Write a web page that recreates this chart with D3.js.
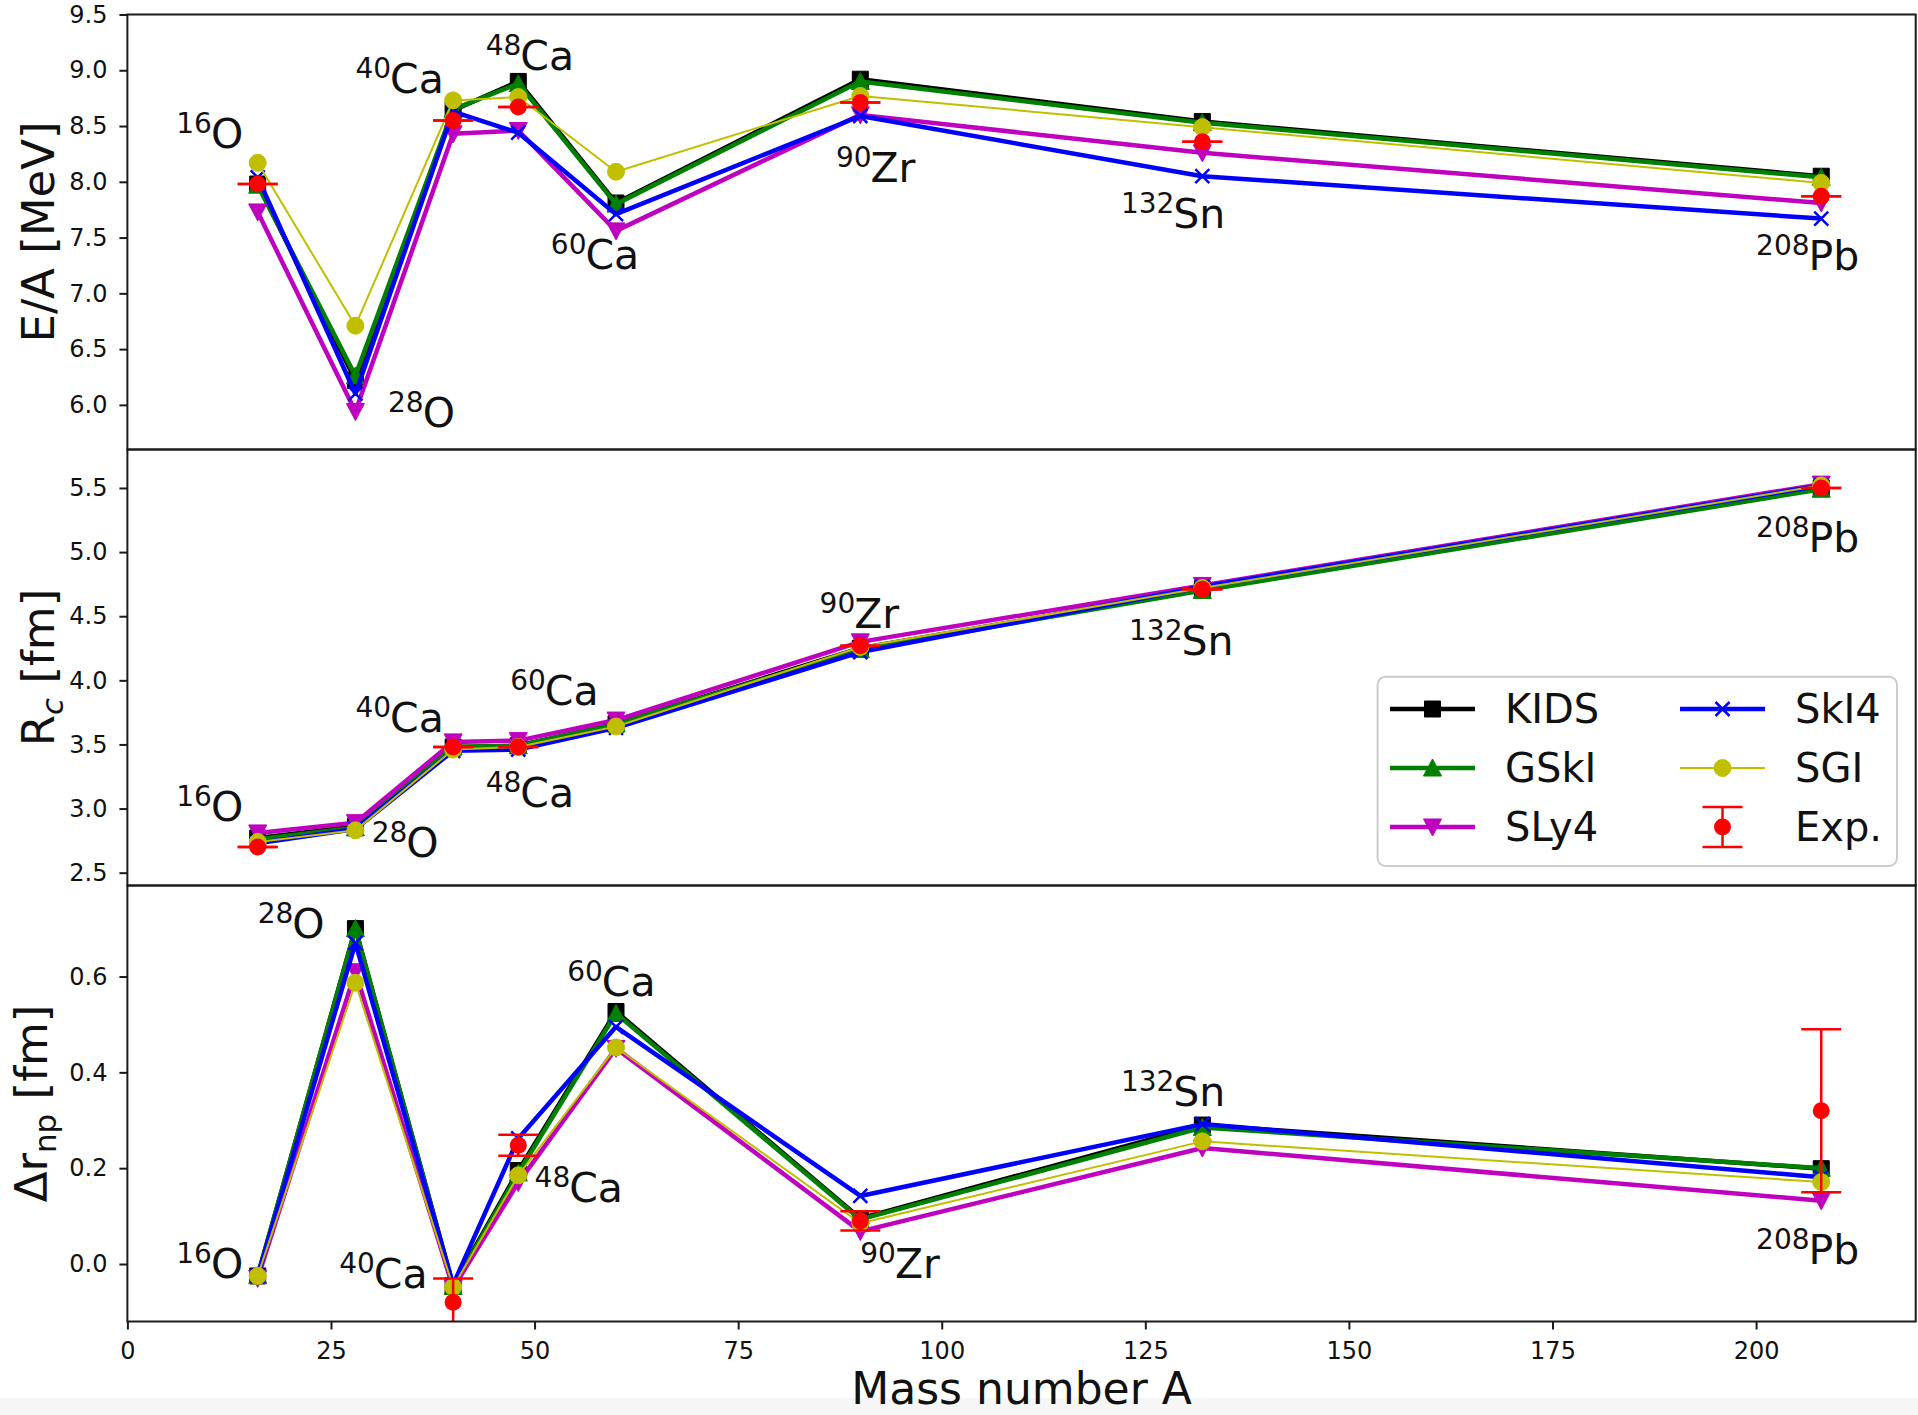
<!DOCTYPE html>
<html>
<head>
<meta charset="utf-8">
<script src="https://cdn.jsdelivr.net/npm/d3@7"></script>
<style>
  body { margin: 0; background: #fff; }
  text { font-family: "DejaVu Sans", sans-serif; fill: #111; }
</style>
</head>
<body>
<svg id="chart"></svg>
<script>
// ---- data ---------------------------------------------------------------
const massNumbers = [16, 28, 40, 48, 60, 90, 132, 208];
const modelNames = ['KIDS', 'GSkI', 'SLy4', 'SkI4', 'SGI'];

// binding energy per nucleon E/A [MeV]
const energyKIDS = [7.98, 6.22, 8.64, 8.90, 7.81, 8.92, 8.54, 8.05];
const energyGSkI = [7.97, 6.26, 8.65, 8.88, 7.80, 8.90, 8.53, 8.04];
const energySLy4 = [7.73, 5.94, 8.43, 8.46, 7.56, 8.60, 8.26, 7.81];
const energySkI4 = [8.04, 6.10, 8.63, 8.44, 7.71, 8.59, 8.05, 7.67];
const energySGI  = [8.17, 6.71, 8.73, 8.76, 8.09, 8.77, 8.49, 7.99];
const energyExpA   = [16, 40, 48, 90, 132, 208];
const energyExp    = [7.98, 8.55, 8.67, 8.71, 8.36, 7.87];
const energyExpErr = [0, 0, 0, 0, 0, 0];

// charge radius Rc [fm]
const radiusKIDS = [2.77, 2.86, 3.48, 3.49, 3.66, 4.25, 4.71, 5.50];
const radiusGSkI = [2.76, 2.85, 3.48, 3.49, 3.66, 4.24, 4.70, 5.49];
const radiusSLy4 = [2.81, 2.89, 3.52, 3.53, 3.69, 4.30, 4.74, 5.53];
const radiusSkI4 = [2.73, 2.84, 3.45, 3.46, 3.63, 4.22, 4.73, 5.52];
const radiusSGI  = [2.74, 2.83, 3.46, 3.48, 3.64, 4.26, 4.72, 5.52];
const radiusExpA   = [16, 40, 48, 90, 132, 208];
const radiusExp    = [2.70, 3.48, 3.48, 4.27, 4.71, 5.50];
const radiusExpErr = [0, 0, 0, 0, 0, 0];

// neutron skin thickness Delta r_np [fm]
const skinKIDS = [-0.025, 0.700, -0.045, 0.195, 0.527, 0.095, 0.290, 0.199];
const skinGSkI = [-0.024, 0.700, -0.047, 0.190, 0.523, 0.093, 0.285, 0.200];
const skinSLy4 = [-0.030, 0.610, -0.050, 0.170, 0.450, 0.068, 0.242, 0.132];
const skinSkI4 = [-0.025, 0.670, -0.043, 0.262, 0.495, 0.142, 0.292, 0.181];
const skinSGI  = [-0.025, 0.587, -0.048, 0.185, 0.452, 0.085, 0.256, 0.171];
const skinExpA   = [40, 48, 90, 208];
const skinExp    = [-0.080, 0.248, 0.090, 0.320];
const skinExpErr = [0.050, 0.022, 0.020, 0.170];

// nuclide tags, anchored in data coordinates (like ax.text)
const tagMass = ['16', '28', '40', '48', '60', '90', '132', '208'];
const tagElem = ['O', 'O', 'Ca', 'Ca', 'Ca', 'Zr', 'Sn', 'Pb'];
const energyTagA = [6, 32, 28, 44, 52, 87, 122, 200];
const energyTagV = [8.30, 5.80, 8.80, 9.00, 7.22, 8.00, 7.59, 7.21];
const radiusTagA = [6, 30, 28, 44, 47, 85, 123, 200];
const radiusTagV = [2.90, 2.62, 3.60, 3.01, 3.81, 4.41, 4.20, 5.00];
const skinTagA = [6, 16, 26, 50, 54, 90, 122, 200];
const skinTagV = [-0.03, 0.68, -0.05, 0.13, 0.56, -0.03, 0.33, 0.00];

const xTicks = [0, 25, 50, 75, 100, 125, 150, 175, 200];
const energyTicks = [6.0, 6.5, 7.0, 7.5, 8.0, 8.5, 9.0, 9.5];
const radiusTicks = [2.5, 3.0, 3.5, 4.0, 4.5, 5.0, 5.5];
const skinTicks = [0.0, 0.2, 0.4, 0.6];

// ---- styles -------------------------------------------------------------
const modelStyle = {
  KIDS: {color: '#000000', width: 4.5, marker: 'square'},
  GSkI: {color: '#008000', width: 4.5, marker: 'up'},
  SLy4: {color: '#bf00bf', width: 4.5, marker: 'down'},
  SkI4: {color: '#0000ff', width: 4.5, marker: 'cross'},
  SGI:  {color: '#bfbf00', width: 2,   marker: 'circle'}
};
const expColor = '#ff0000';
const frameColor = '#1a1a1a';

const W = 1918, H = 1415;
const plotLeft = 127.4, plotRight = 1915.7;

const svg = d3.select('#chart').attr('width', W).attr('height', H);
svg.append('rect').attr('width', W).attr('height', H).attr('fill', '#fff');
svg.append('rect').attr('y', 1398).attr('width', W).attr('height', H - 1398).attr('fill', '#f6f6f6');

const x = d3.scaleLinear().domain([0, 219.6]).range([plotLeft, plotRight]);

const panels = [
  {top: 14.5, bottom: 449.5, domain: [5.6, 9.5], ticks: energyTicks,
   series: [energyKIDS, energyGSkI, energySLy4, energySkI4, energySGI],
   expA: energyExpA, exp: energyExp, expErr: energyExpErr,
   tagA: energyTagA, tagV: energyTagV, label: 'energy', labelX: 53.5},
  {top: 449.5, bottom: 885.5, domain: [2.4, 5.8], ticks: radiusTicks,
   series: [radiusKIDS, radiusGSkI, radiusSLy4, radiusSkI4, radiusSGI],
   expA: radiusExpA, exp: radiusExp, expErr: radiusExpErr,
   tagA: radiusTagA, tagV: radiusTagV, label: 'radius', labelX: 53.5},
  {top: 885.5, bottom: 1321.5, domain: [-0.12, 0.79], ticks: skinTicks,
   series: [skinKIDS, skinGSkI, skinSLy4, skinSkI4, skinSGI],
   expA: skinExpA, exp: skinExp, expErr: skinExpErr,
   tagA: skinTagA, tagV: skinTagV, label: 'skin', labelX: 47}
];

function markerPath(type) {
  switch (type) {
    case 'square': return 'M-8,-8H8V8H-8Z';
    case 'up': return 'M0,-9L9,8L-9,8Z';
    case 'down': return 'M0,9L9,-8L-9,-8Z';
    case 'cross': return 'M-7,-7L7,7M-7,7L7,-7';
    default: return d3.symbol(d3.symbolCircle, Math.PI * 8.5 * 8.5)();
  }
}

function drawMarker(sel, style) {
  sel.attr('d', markerPath(style.marker));
  if (style.marker === 'cross') {
    sel.attr('fill', 'none').attr('stroke', style.color).attr('stroke-width', 2.5);
  } else {
    sel.attr('fill', style.color).attr('stroke', style.color).attr('stroke-width', 1);
  }
}

const defs = svg.append('defs');

panels.forEach((p, i) => {
  const y = d3.scaleLinear().domain(p.domain).range([p.bottom, p.top]);
  const g = svg.append('g');

  defs.append('clipPath').attr('id', 'clip' + i)
    .append('rect').attr('x', plotLeft).attr('y', p.top)
    .attr('width', plotRight - plotLeft).attr('height', p.bottom - p.top);

  const plot = g.append('g').attr('clip-path', `url(#clip${i})`);
  const line = d3.line().x(d => x(d[0])).y(d => y(d[1]));

  // model curves, in plotting order
  modelNames.forEach((name, k) => {
    const st = modelStyle[name];
    const pts = massNumbers.map((a, j) => [a, p.series[k][j]]);
    plot.append('path').datum(pts)
      .attr('d', line)
      .attr('fill', 'none')
      .attr('stroke', st.color)
      .attr('stroke-width', st.width)
      .attr('stroke-linejoin', 'round');
    plot.selectAll(null).data(pts).join('path')
      .attr('transform', d => `translate(${x(d[0])},${y(d[1])})`)
      .call(drawMarker, st);
  });

  // experimental points with error bars
  const expPts = p.expA.map((a, j) => ({a: a, v: p.exp[j], e: p.expErr[j]}));
  const eg = plot.selectAll(null).data(expPts).join('g');
  eg.append('line')
    .attr('x1', d => x(d.a)).attr('x2', d => x(d.a))
    .attr('y1', d => y(d.v - d.e)).attr('y2', d => y(d.v + d.e))
    .attr('stroke', expColor).attr('stroke-width', 2.5);
  [-1, 1].forEach(s => {
    eg.append('line')
      .attr('x1', d => x(d.a) - 20).attr('x2', d => x(d.a) + 20)
      .attr('y1', d => y(d.v + s * d.e)).attr('y2', d => y(d.v + s * d.e))
      .attr('stroke', expColor).attr('stroke-width', 2.5);
  });
  eg.append('circle')
    .attr('cx', d => x(d.a)).attr('cy', d => y(d.v)).attr('r', 8.5)
    .attr('fill', expColor);

  // nuclide tags
  const tags = g.selectAll(null).data(tagMass).join('text')
    .attr('x', (d, j) => x(p.tagA[j]))
    .attr('y', (d, j) => y(p.tagV[j]));
  tags.append('tspan').attr('font-size', 28).attr('dy', -15).text(d => d);
  tags.append('tspan').attr('font-size', 41).attr('dy', 15).attr('dx', -1)
    .text((d, j) => tagElem[j]);

  // frame
  g.append('rect')
    .attr('x', plotLeft).attr('y', p.top)
    .attr('width', plotRight - plotLeft).attr('height', p.bottom - p.top)
    .attr('fill', 'none').attr('stroke', frameColor).attr('stroke-width', 2);

  // y axis
  const yAxis = d3.axisLeft(y).tickValues(p.ticks)
    .tickFormat(d3.format('.1f')).tickSize(8).tickPadding(12);
  g.append('g')
    .attr('transform', `translate(${plotLeft},0)`)
    .call(yAxis)
    .call(a => a.select('.domain').remove())
    .attr('font-size', 24).attr('font-family', '"DejaVu Sans", sans-serif')
    .call(a => a.selectAll('line').attr('stroke', frameColor).attr('stroke-width', 2))
    .call(a => a.selectAll('text').attr('fill', '#1a1a1a'));

  // y label
  const cy = (p.top + p.bottom) / 2;
  const lab = g.append('text')
    .attr('transform', `translate(${p.labelX},${cy}) rotate(-90)`)
    .attr('text-anchor', 'middle')
    .attr('font-size', 45);
  if (p.label === 'energy') {
    lab.text('E/A [MeV]');
  } else if (p.label === 'radius') {
    lab.append('tspan').text('R');
    lab.append('tspan').attr('font-size', 31).attr('font-style', 'italic').attr('dy', 9).text('c');
    lab.append('tspan').attr('dy', -9).text(' [fm]');
  } else {
    lab.append('tspan').text('\u0394r');
    lab.append('tspan').attr('font-size', 31).attr('dy', 9).text('np');
    lab.append('tspan').attr('dy', -9).text(' [fm]');
  }

  // x axis only on the bottom panel
  if (i === panels.length - 1) {
    const xAxis = d3.axisBottom(x).tickValues(xTicks)
      .tickFormat(d3.format('d')).tickSize(8).tickPadding(12);
    g.append('g')
      .attr('transform', `translate(0,${p.bottom})`)
      .call(xAxis)
      .call(a => a.select('.domain').remove())
      .attr('font-size', 24).attr('font-family', '"DejaVu Sans", sans-serif')
      .call(a => a.selectAll('line').attr('stroke', frameColor).attr('stroke-width', 2))
      .call(a => a.selectAll('text').attr('fill', '#1a1a1a'));
    g.append('text')
      .attr('x', (plotLeft + plotRight) / 2).attr('y', 1404)
      .attr('text-anchor', 'middle').attr('font-size', 44)
      .text('Mass number A');
  }
});

// ---- legend (in middle panel) -------------------------------------------
const legend = svg.append('g');
legend.append('rect')
  .attr('x', 1377.6).attr('y', 676.7).attr('width', 519.4).attr('height', 189.3)
  .attr('rx', 8).attr('fill', '#fff').attr('fill-opacity', 0.8)
  .attr('stroke', '#cccccc').attr('stroke-width', 2);

const legendItems = ['KIDS', 'GSkI', 'SLy4', 'SkI4', 'SGI', 'Exp.'];
const legendRows = [709, 768, 827];
const legendCols = [{h0: 1390, h1: 1475, tx: 1505}, {h0: 1680, h1: 1765, tx: 1795}];

legendItems.forEach((name, k) => {
  const col = legendCols[Math.floor(k / 3)];
  const ry = legendRows[k % 3];
  const mid = (col.h0 + col.h1) / 2;
  const st = modelStyle[name];
  if (st) {
    legend.append('line')
      .attr('x1', col.h0).attr('x2', col.h1).attr('y1', ry).attr('y2', ry)
      .attr('stroke', st.color).attr('stroke-width', st.width);
    legend.append('path')
      .attr('transform', `translate(${mid},${ry})`)
      .call(drawMarker, st);
  } else {
    legend.append('line')
      .attr('x1', mid).attr('x2', mid).attr('y1', ry - 20).attr('y2', ry + 20)
      .attr('stroke', expColor).attr('stroke-width', 2.5);
    [-20, 20].forEach(o => {
      legend.append('line')
        .attr('x1', mid - 20).attr('x2', mid + 20).attr('y1', ry + o).attr('y2', ry + o)
        .attr('stroke', expColor).attr('stroke-width', 2.5);
    });
    legend.append('circle').attr('cx', mid).attr('cy', ry).attr('r', 8.5).attr('fill', expColor);
  }
  legend.append('text')
    .attr('x', col.tx).attr('y', ry + 14)
    .attr('font-size', 40)
    .text(name);
});
</script>
</body>
</html>
